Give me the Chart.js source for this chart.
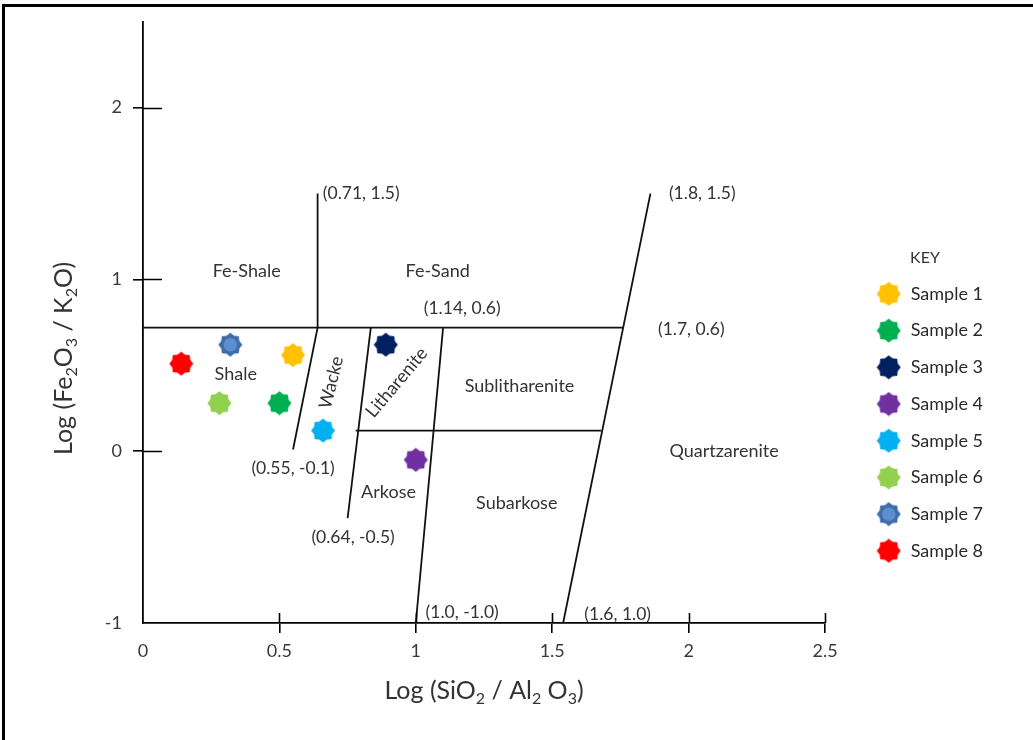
<!DOCTYPE html>
<html lang="en">
<head>
    <meta charset="UTF-8">
    <title>Log(SiO2/Al2O3) vs Log(Fe2O3/K2O) classification</title>
    <style>
        html, body {
            margin: 0;
            padding: 0;
            overflow: hidden;
            background-color: #fff;
        }
        .chart-wrap {
            position: absolute;
            left: 0;
            top: 0;
            width: 1033px;
            height: 740px;
        }
        .frame {
            position: absolute;
            left: 2px;
            top: 4px;
            width: 1060px;
            height: 760px;
            border: 3px solid #000;
            box-sizing: border-box;
            pointer-events: none;
        }
    </style>
</head>
<body>

<div class="chart-wrap"><canvas id="herronChart"></canvas></div>
<div class="frame"></div>

<script src="https://cdn.jsdelivr.net/npm/chart.js"></script>
<script>
    // Samples: x = Log(SiO2/Al2O3), y = Log(Fe2O3/K2O)
    const sampleNames = ['Sample 1', 'Sample 2', 'Sample 3', 'Sample 4', 'Sample 5', 'Sample 6', 'Sample 7', 'Sample 8'];
    const sampleLogSiAl = [0.55, 0.50, 0.89, 1.00, 0.66, 0.28, 0.32, 0.14];
    const sampleLogFeK = [0.56, 0.28, 0.62, -0.05, 0.12, 0.28, 0.62, 0.51];

    // Field boundaries, one [start, end] pair per line
    const boundaryX = [[0, 1.76], [0.64, 0.64], [0.64, 0.55], [0.835, 0.75], [1.10, 1.00], [0.78, 1.68], [1.86, 1.54]];
    const boundaryY = [[0.72, 0.72], [1.50, 0.72], [0.72, 0.01], [0.72, -0.39], [0.72, -1.00], [0.12, 0.12], [1.50, -1.00]];

    const xTicks = [0, 0.5, 1, 1.5, 2, 2.5];
    const yTicks = [-1, 0, 1, 2];

    // Field names and where they sit in the diagram
    const fieldNames = ['Fe-Shale', 'Fe-Sand', 'Shale', 'Wacke', 'Litharenite', 'Sublitharenite', 'Quartzarenite', 'Arkose', 'Subarkose'];
    const fieldX = [0.38, 1.08, 0.34, 0.69, 0.93, 1.38, 2.13, 0.90, 1.37];
    const fieldY = [1.05, 1.05, 0.45, 0.40, 0.40, 0.38, 0.00, -0.24, -0.30];

    // Corner coordinate notes
    const cornerLabels = ['(0.71, 1.5)', '(1.8, 1.5)', '(1.14, 0.6)', '(1.7, 0.6)', '(0.55, -0.1)', '(0.64, -0.5)', '(1.0, -1.0)', '(1.6, 1.0)'];
    const cornerX = [0.80, 2.05, 1.17, 2.01, 0.55, 0.77, 1.17, 1.74];
    const cornerY = [1.50, 1.50, 0.83, 0.71, -0.10, -0.50, -0.94, -0.95];

    const sampleColors = ['#FFC000', '#00B050', '#002060', '#7030A0', '#00B0F0', '#92D050', '#3F6CA8', '#FF0000'];
    const fieldAngles = [0, 0, 0, -76, -50, 0, 0, 0, 0];
    const textColor = '#333';

    Chart.defaults.font.family = 'Lato, "Open Sans", sans-serif';

    // 8-pointed seal marker used for the samples
    function sealMarker(fill, core) {
        const size = 25;
        const c = document.createElement('canvas');
        c.width = size;
        c.height = size;
        const g = c.getContext('2d');
        const mid = size / 2;
        g.beginPath();
        for (let i = 0; i < 16; i++) {
            const r = i % 2 ? 9.8 : 12;
            const a = Math.PI * i / 8 - Math.PI / 2;
            const px = mid + r * Math.cos(a);
            const py = mid + r * Math.sin(a);
            if (i === 0) g.moveTo(px, py); else g.lineTo(px, py);
        }
        g.closePath();
        g.fillStyle = fill;
        g.fill();
        if (core) {
            g.beginPath();
            g.arc(mid, mid, 6.8, 0, Math.PI * 2);
            g.fillStyle = core;
            g.fill();
        }
        return c;
    }

    function drawSubscripted(ctx, parts, cx, cy, size, angle) {
        const normal = size + 'px Lato';
        const small = Math.round(size * 0.62) + 'px Lato';
        let width = 0;
        parts.forEach(p => {
            ctx.font = p[1] ? small : normal;
            width += ctx.measureText(p[0]).width;
        });
        ctx.save();
        ctx.translate(cx, cy);
        ctx.rotate(angle);
        ctx.textAlign = 'left';
        ctx.textBaseline = 'alphabetic';
        let x = -width / 2;
        parts.forEach(p => {
            ctx.font = p[1] ? small : normal;
            ctx.fillText(p[0], x, p[1] ? size * 0.55 : size * 0.35);
            x += ctx.measureText(p[0]).width;
        });
        ctx.restore();
    }

    const xTitle = [['Log (SiO', 0], ['2', 1], [' / Al', 0], ['2', 1], [' O', 0], ['3', 1], [')', 0]];
    const yTitle = [['Log (Fe', 0], ['2', 1], ['O', 0], ['3', 1], [' / K', 0], ['2', 1], ['O)', 0]];

    const diagramText = {
        id: 'diagramText',
        afterDraw(chart) {
            const {ctx, chartArea} = chart;
            const x = chart.scales.x;
            const y = chart.scales.y;
            ctx.save();

            // inner half of the crossing tick marks
            ctx.strokeStyle = '#000';
            ctx.lineWidth = 1.6;
            ctx.beginPath();
            xTicks.forEach(v => {
                if (v === 0) return;
                const px = Math.round(x.getPixelForValue(v)) + 0.5;
                ctx.moveTo(px, chartArea.bottom);
                ctx.lineTo(px, chartArea.bottom - 10);
            });
            yTicks.forEach(v => {
                if (v === -1) return;
                const py = Math.round(y.getPixelForValue(v)) + 0.5;
                ctx.moveTo(chartArea.left, py);
                ctx.lineTo(chartArea.left + 19, py);
            });
            ctx.stroke();

            ctx.fillStyle = textColor;
            ctx.textAlign = 'center';
            ctx.textBaseline = 'middle';
            ctx.font = '18px Lato';
            fieldNames.forEach((name, i) => {
                ctx.save();
                ctx.translate(x.getPixelForValue(fieldX[i]), y.getPixelForValue(fieldY[i]));
                ctx.rotate(fieldAngles[i] * Math.PI / 180);
                ctx.fillText(name, 0, 0);
                ctx.restore();
            });
            ctx.font = '17.5px Lato';
            cornerLabels.forEach((t, i) => {
                ctx.fillText(t, x.getPixelForValue(cornerX[i]), y.getPixelForValue(cornerY[i]));
            });

            // axis titles with subscripts
            drawSubscripted(ctx, xTitle, (chartArea.left + chartArea.right) / 2, chartArea.bottom + 67, 25, 0);
            drawSubscripted(ctx, yTitle, 63, (chartArea.top + chartArea.bottom) / 2 + 36, 25, -Math.PI / 2);
            ctx.restore();
        }
    };

    const sampleSets = sampleNames.map((name, i) => ({
        label: name,
        data: [{x: sampleLogSiAl[i], y: sampleLogFeK[i]}],
        pointStyle: sealMarker(sampleColors[i], i === 6 ? '#5B8FD0' : null),
        pointRadius: 12,
        showLine: false
    }));

    const boundarySets = boundaryX.map((xs, i) => ({
        label: 'boundary ' + (i + 1),
        data: xs.map((v, j) => ({x: v, y: boundaryY[i][j]})),
        showLine: true,
        borderColor: '#111',
        borderWidth: 1.8,
        pointRadius: 0,
        fill: false
    }));

    const tickGrid = (skip) => ({
        drawOnChartArea: false,
        drawTicks: true,
        tickLength: 10,
        lineWidth: 1.6,
        color: ctx => (ctx.tick && ctx.tick.value === skip) ? 'rgba(0,0,0,0)' : '#000'
    });

    new Chart(document.getElementById('herronChart'), {
        type: 'scatter',
        data: {datasets: sampleSets.concat(boundarySets)},
        options: {
            responsive: true,
            maintainAspectRatio: false,
            animation: false,
            events: [],
            layout: {padding: {top: 20, left: 0, bottom: 0, right: 40}},
            scales: {
                x: {
                    type: 'linear',
                    min: 0,
                    max: 2.5,
                    afterBuildTicks: s => { s.ticks = xTicks.map(v => ({value: v})); },
                    afterFit: s => { s.height = 117; },
                    ticks: {color: '#3a3a3a', font: {size: 18}, padding: 7, maxRotation: 0, callback: v => String(v)},
                    grid: tickGrid(0),
                    border: {color: '#000', width: 1.8}
                },
                y: {
                    type: 'linear',
                    min: -1,
                    max: 2.5,
                    afterBuildTicks: s => { s.ticks = yTicks.map(v => ({value: v})); },
                    afterFit: s => { s.width = 143; },
                    ticks: {color: '#3a3a3a', font: {size: 18}, padding: 11, callback: v => String(v)},
                    grid: tickGrid(-1),
                    border: {color: '#000', width: 1.8}
                },
                spacer: {
                    axis: 'y',
                    type: 'linear',
                    position: 'right',
                    display: true,
                    grid: {display: false},
                    ticks: {display: false},
                    border: {display: false},
                    afterFit: s => { s.width = 32; }
                }
            },
            plugins: {
                tooltip: {enabled: false},
                legend: {
                    position: 'right',
                    align: 'start',
                    title: {
                        display: true,
                        text: 'KEY',
                        position: 'center',
                        color: '#333',
                        font: {size: 16},
                        padding: {top: 230, bottom: -3}
                    },
                    labels: {
                        usePointStyle: true,
                        pointStyleWidth: 26,
                        padding: 18.7,
                        color: '#2a2a2a',
                        font: {size: 18},
                        filter: item => item.datasetIndex < sampleNames.length
                    }
                }
            }
        },
        plugins: [diagramText]
    });
</script>
</body>
</html>
